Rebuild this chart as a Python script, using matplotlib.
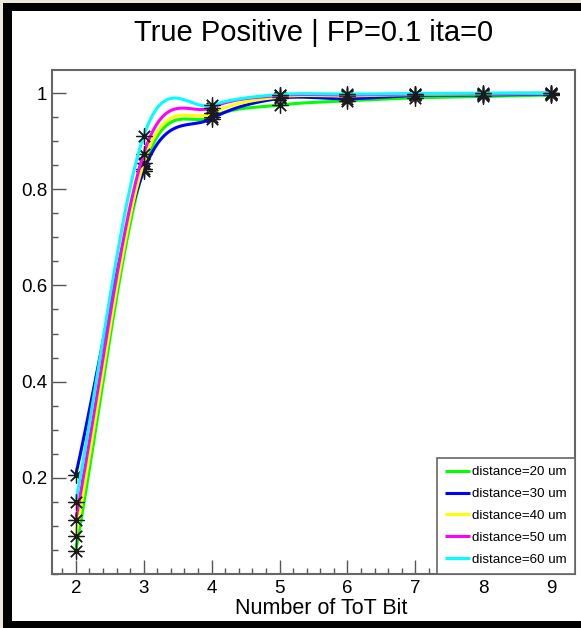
import numpy as np
import matplotlib
matplotlib.use('Agg')
import matplotlib.pyplot as plt
from matplotlib.patches import Rectangle
from matplotlib.ticker import MultipleLocator

plt.rcParams['font.family'] = ['Liberation Sans', 'DejaVu Sans']

# --- data ---
tot_bits = [2, 3, 4, 5, 6, 7, 8, 9]
tp_20um = [0.048, 0.843, 0.950, 0.975, 0.984, 0.990, 0.993, 0.996]
tp_30um = [0.206, 0.838, 0.947, 0.989, 0.988, 0.995, 0.996, 0.998]
tp_40um = [0.079, 0.855, 0.958, 0.992, 0.994, 0.997, 0.998, 0.999]
tp_50um = [0.1125, 0.874, 0.970, 0.995, 0.996, 0.998, 0.999, 1.0]
tp_60um = [0.149, 0.911, 0.975, 0.997, 0.998, 0.999, 1.0, 1.0]

labels = ['distance=20 um', 'distance=30 um', 'distance=40 um',
          'distance=50 um', 'distance=60 um']
colors = ['#00ff00', '#0000ff', '#ffff00', '#ff00ff', '#00ffff']
y_tick_labels = ['0.2', '0.4', '0.6', '0.8', '1']

xlim = (1.65, 9.35)
ylim = (0.0, 1.048)


def smooth(x, y, n=60):
    # Catmull-Rom curve through the points (close to ROOT's "C" drawing)
    P = np.column_stack([x, y]).astype(float)
    m = np.zeros_like(P)
    m[1:-1] = 0.5 * (P[2:] - P[:-2])
    m[0] = P[1] - P[0]
    m[-1] = P[-1] - P[-2]
    s = np.linspace(0, 1, n)[:, None]
    h00 = 2 * s**3 - 3 * s**2 + 1
    h10 = s**3 - 2 * s**2 + s
    h01 = -2 * s**3 + 3 * s**2
    h11 = s**3 - s**2
    segs = [h00 * P[i] + h10 * m[i] + h01 * P[i + 1] + h11 * m[i + 1]
            for i in range(len(P) - 1)]
    c = np.vstack(segs)
    return c[:, 0], c[:, 1]


fig = plt.figure(figsize=(5.81, 6.28), dpi=100)
ax = fig.add_axes([52 / 581, 1 - 574 / 628, 523 / 581, 504 / 628])

series = [tp_20um, tp_30um, tp_40um, tp_50um, tp_60um]
handles = []
z = 2
for vals, col, lab in zip(series, colors, labels):
    sx, sy = smooth(tot_bits, vals)
    ln, = ax.plot(sx, sy, color=col, lw=2.2, label=lab, zorder=z,
                  solid_capstyle='butt')
    ax.plot(tot_bits, vals, linestyle='none', marker=(8, 2, 0), ms=11.5,
            mew=0.9, color='#1a1a1a', zorder=z + 1)
    handles.append(ln)
    z += 2

ax.set_xlim(*xlim)
ax.set_ylim(*ylim)
ax.set_xticks(tot_bits)
ax.set_xticklabels([str(b) for b in tot_bits])
ax.set_yticks([0.2, 0.4, 0.6, 0.8, 1.0])
ax.set_yticklabels(y_tick_labels)
ax.xaxis.set_minor_locator(MultipleLocator(0.2))
ax.yaxis.set_minor_locator(MultipleLocator(0.05))
ax.tick_params(which='both', direction='in', top=False, right=False,
               color='#555555', width=1, labelsize=13.5)
ax.tick_params(which='major', length=10)
ax.tick_params(which='minor', length=4.5)
ax.tick_params(axis='x', pad=4)
ax.tick_params(axis='y', pad=3.5)
for s in ax.spines.values():
    s.set_color('#666666')
    s.set_linewidth(1.5)

leg = ax.legend(handles=handles, loc='lower right', bbox_to_anchor=(1, 0),
                borderaxespad=0, fancybox=False, framealpha=1,
                edgecolor='#666666', fontsize=9.6, handlelength=1.9,
                handletextpad=0.15, labelspacing=0.72, borderpad=0.6)
leg.get_frame().set_linewidth(1.2)

fig.text(313.5 / 581, 1 - 33 / 628, 'True Positive | FP=0.1 ita=0',
         ha='center', va='center', fontsize=21)
fig.text(321.5 / 581, 1 - 609 / 628, 'Number of ToT Bit',
         ha='center', va='center', fontsize=15.5)

# window border of the screenshot
W, H = 581, 628
beige = '#ece9d8'
for (x0, y0, w, h, c) in [(0, 0, 3, H, beige), (0, H - 3, W, 3, beige),
                          (3, 0, 8.5, H - 3, 'black'), (3, H - 11, W - 3, 8, 'black'),
                          (3, 0, W - 3, 7, 'black')]:
    fig.patches.append(Rectangle((x0 / W, y0 / H), w / W, h / H,
                                 transform=fig.transFigure, color=c, lw=0))

fig.savefig('out.png', dpi=100)
